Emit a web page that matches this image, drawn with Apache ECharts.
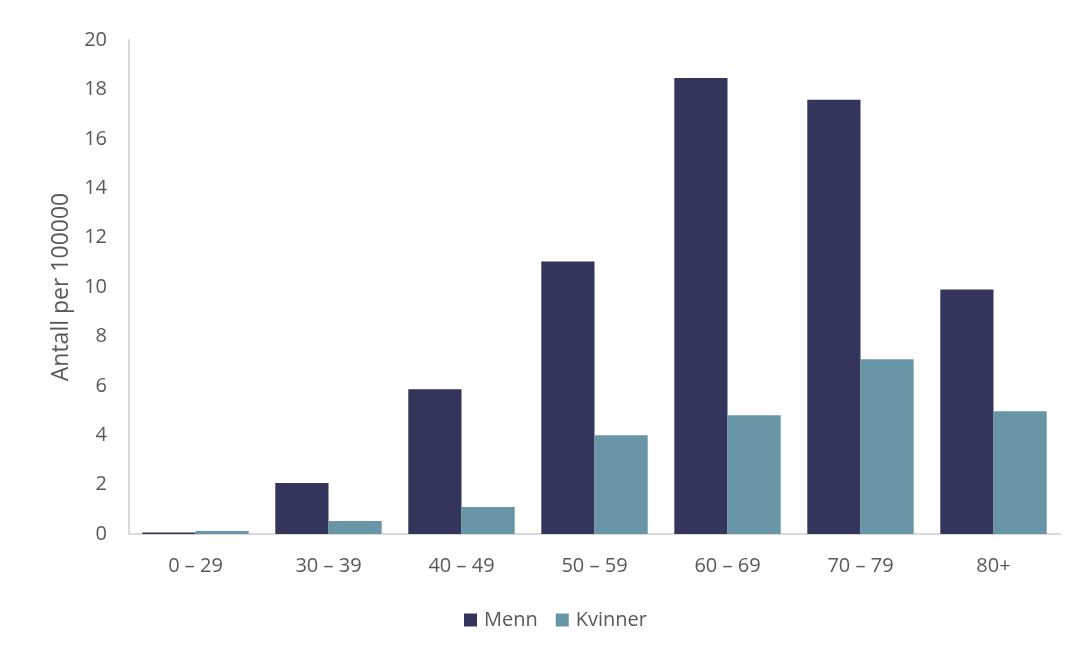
<!DOCTYPE html>
<html>
<head>
<meta charset="utf-8">
<script src="https://cdn.jsdelivr.net/npm/echarts@6/dist/echarts.min.js"></script>
<style>html,body{margin:0;padding:0;background:#fff}#c{width:1076px;height:652px}</style>
</head>
<body>
<div id="c"></div>
<script>
const categories = ['0 – 29', '30 – 39', '40 – 49', '50 – 59', '60 – 69', '70 – 79', '80+'];
const menn = [0.06, 2.06, 5.86, 11.03, 18.46, 17.58, 9.9];
const kvinner = [0.12, 0.53, 1.09, 4.0, 4.81, 7.07, 4.97];
const yTicks = [0, 2, 4, 6, 8, 10, 12, 14, 16, 18, 20];

const chart = echarts.init(document.getElementById('c'));
const font = 'Open Sans';
chart.setOption({
  animation: false,
  textStyle: { fontFamily: font },
  grid: { left: 129, right: 16, top: 40, bottom: 118 },
  legend: {
    bottom: 17,
    left: 459,
    itemWidth: 13, itemHeight: 13, itemGap: 18,
    icon: 'rect',
    textStyle: { fontSize: 20, color: '#595959', fontFamily: font, padding: [0, 0, 0, 2] },
    data: ['Menn', 'Kvinner']
  },
  xAxis: {
    type: 'category',
    data: categories,
    axisLine: { lineStyle: { color: '#D9D9D9', width: 2 } },
    axisTick: { show: false },
    axisLabel: { fontSize: 20, color: '#595959', margin: 22, fontFamily: font }
  },
  yAxis: {
    type: 'value',
    min: 0, max: 20, interval: 2,
    name: 'Antall per 100000',
    nameLocation: 'middle',
    nameGap: 55,
    nameTextStyle: { fontSize: 23, color: '#595959', fontFamily: font },
    axisLine: { show: true, lineStyle: { color: '#D9D9D9', width: 2 } },
    axisTick: { show: false },
    splitLine: { show: false },
    axisLabel: {
      fontSize: 20, color: '#595959', margin: 22, fontFamily: font,
      formatter: v => yTicks.includes(v) ? String(v) : ''
    }
  },
  series: [
    { name: 'Menn', type: 'bar', data: menn, itemStyle: { color: '#33355A' }, barGap: '0%', barCategoryGap: '20%' },
    { name: 'Kvinner', type: 'bar', data: kvinner, itemStyle: { color: '#6896A6' }, barGap: '0%', barCategoryGap: '20%' }
  ]
});
</script>
</body>
</html>
